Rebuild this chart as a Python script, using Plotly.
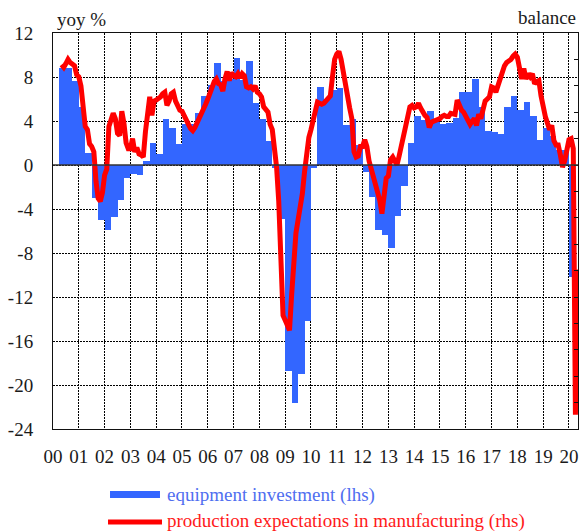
import plotly.graph_objects as go

# ---- data ----
# Equipment investment, yoy %, quarterly from 2000Q2 to 2020Q1 (lhs)
equip_start_year = 2000
equip_start_quarter = 2
equip_investment = [
    8.8, 8.8, 7.6,              # 2000 Q2-Q4
    5.3, 1.1, -3.0, -5.0,       # 2001
    -5.9, -4.7, -3.2, -1.15,    # 2002
    -0.8, -0.95, 0.33, 2.03,    # 2003
    1.03, 4.2, 3.4, 1.94,       # 2004
    3.76, 3.7, 4.7, 6.3,        # 2005
    7.3, 9.3, 7.6, 7.8,         # 2006
    9.76, 7.7, 9.5, 5.6,        # 2007
    4.2, 2.2, -0.3, -4.9,       # 2008
    -18.7, -21.6, -19.0, -14.2, # 2009
    -0.3, 7.1, 6.0, 6.8,        # 2010
    7.0, 3.6, 4.2, 1.8,         # 2011
    -0.6, -2.9, -5.9, -6.4,     # 2012
    -7.5, -4.6, -1.9, 2.0,      # 2013
    4.5, 4.1, 4.9, 3.9,         # 2014
    3.7, 3.8, 4.3, 6.6,         # 2015
    6.6, 7.8, 5.3, 3.1,         # 2016
    3.0, 2.8, 5.3, 6.3,         # 2017
    5.0, 5.7, 4.5, 2.3,         # 2018
    3.4, 2.6, 1.4, 1.4,         # 2019
    -10.2,                      # 2020 Q1
]

# Production expectations in manufacturing, balance, monthly from May 2000 (rhs)
prod_start_year = 2000
prod_start_month = 5
production_expectations = [
    19.0, 18.5, 19.2, 20.0, 19.4, 19.2, 18.8, 17.1,                         # 2000 May-Dec
    16.7, 15.0, 11.0, 7.3, 6.7, 4.0, 3.5, 2.5, -3.1, -6.3, -6.9, -5.2,      # 2001
    -1.9, -0.8, 7.3, 8.3, 9.8, 8.8, 6.0, 5.6, 10.2, 7.9, 4.2, 3.1,          # 2002
    3.1, 5.0, 2.5, 3.3, 2.1, 1.9, 1.5, 6.3, 10.4, 12.9, 9.4, 12.1,          # 2003
    12.3, 12.5, 12.9, 13.5, 13.8, 11.3, 12.1, 13.5, 13.8, 12.1, 11.0, 10.4, # 2004
    10.2, 9.2, 8.3, 7.7, 6.9, 6.5, 7.1, 7.9, 9.0, 10.0, 10.6, 11.5,         # 2005
    12.5, 13.8, 15.0, 15.8, 16.3, 15.4, 15.2, 14.0, 16.3, 17.7, 16.0, 17.5, # 2006
    16.9, 16.7, 17.3, 16.5, 17.3, 16.9, 14.8, 14.6, 14.8, 14.4, 15.0, 13.8, # 2007
    13.5, 12.9, 11.0, 10.6, 10.0, 7.7, 6.7, 3.1, -0.4, -6.9, -19.8, -28.5,  # 2008
    -29.4, -30.4, -31.3, -24.6, -16.7, -12.9, -10.4, -7.9, -5.4, -1.3, 2.7, 5.2,  # 2009
    6.7, 8.5, 10.8, 11.9, 11.7, 11.5, 11.7, 12.1, 12.7, 13.1, 16.7, 20.0,   # 2010
    21.0, 21.5, 20.0, 17.5, 14.6, 12.5, 10.8, 8.8, 2.5, 1.5, 1.7, 3.5,      # 2011
    3.5, 4.8, 3.5, 0.8, -0.6, -2.1, -3.8, -5.4, -6.7, -9.2, -5.2, -2.5,     # 2012
    -2.1, 1.0, 1.5, 0.8, 0.0, 1.7, 3.5, 6.0, 7.9, 9.4, 11.0, 11.3,          # 2013
    10.8, 11.0, 11.7, 10.8, 10.0, 9.4, 9.0, 7.1, 8.1, 8.3, 8.5, 8.5,        # 2014
    8.8, 9.2, 9.4, 9.2, 9.2, 9.8, 9.6, 9.6, 12.3, 11.0, 10.4, 10.0,         # 2015
    9.2, 8.1, 7.7, 8.3, 8.8, 7.5, 9.6, 8.8, 10.4, 12.1, 12.5, 12.9,         # 2016
    14.8, 14.6, 13.8, 15.2, 16.0, 17.3, 18.8, 19.4, 19.6, 20.0, 20.6, 21.0, # 2017
    20.4, 18.3, 16.3, 18.3, 16.3, 17.3, 16.7, 17.3, 15.4, 15.8, 16.0, 13.1, # 2018
    10.4, 9.2, 7.9, 6.7, 7.5, 4.6, 3.8, 3.8, 1.9, -0.4, 0.8, 2.7,           # 2019
    4.8, 5.0, 3.1, -47.3, -19.8,                                            # 2020 Jan-May
]

year_ticks = list(range(2000, 2021))
year_labels = [f"{y % 100:02d}" for y in year_ticks]
lhs_ticks = [12, 8, 4, 0, -4, -8, -12, -16, -20, -24]

# ---- derived positions (dates as decimal years) ----
q0 = equip_start_year + (equip_start_quarter - 1) / 4
equip_x = [q0 + 0.25 * i + 0.125 for i in range(len(equip_investment))]
m0 = prod_start_year + (prod_start_month - 1) / 12
prod_x = [m0 + i / 12 for i in range(len(production_expectations))]

FONT = "Liberation Serif"
FS = 19
BLUE = "#3366FF"
RED = "#FF0000"
TXT = "#1A1A1A"
GRID = "#000000"
DASH = "2px,1px"

fig = go.Figure()
fig.add_trace(go.Bar(
    x=equip_x, y=equip_investment, width=0.25,
    marker=dict(color=BLUE, line=dict(width=0)),
    name="equipment investment (lhs)", yaxis="y", showlegend=False,
))
fig.add_trace(go.Scatter(
    x=prod_x, y=production_expectations, mode="lines",
    line=dict(color=RED, width=5),
    name="production expectations in manufacturing (rhs)",
    yaxis="y2", showlegend=False,
))

fig.update_layout(
    width=581, height=531,
    margin=dict(l=53, r=3, t=33, b=102),
    paper_bgcolor="white", plot_bgcolor="white",
    bargap=0,
    font=dict(family=FONT, size=FS, color=TXT),
    xaxis=dict(
        range=[2000, 2020.35],
        tickmode="array", tickvals=year_ticks, ticktext=year_labels,
        showgrid=True, gridcolor=GRID, gridwidth=1, griddash=DASH,
        showline=True, linecolor="#111111", linewidth=1, mirror=True,
        ticks="", ticklabelstandoff=10, automargin=False,
        zeroline=False,
        tickfont=dict(family=FONT, size=FS, color=TXT),
    ),
    yaxis=dict(
        range=[-24, 12],
        tickmode="array", tickvals=lhs_ticks, ticktext=[str(v) for v in lhs_ticks],
        showgrid=True, gridcolor=GRID, gridwidth=1, griddash=DASH,
        showline=True, linecolor="#111111", linewidth=1, mirror=True,
        ticks="", ticklabelstandoff=15, automargin=False,
        zeroline=False,
        tickfont=dict(family=FONT, size=FS, color=TXT),
    ),
    yaxis2=dict(
        range=[-50, 25], overlaying="y", side="right",
        dtick=5, tick0=0,
        ticks="inside", ticklen=4, tickcolor="#111111",
        showticklabels=False, showgrid=False, zeroline=False, showline=False,
        automargin=False,
    ),
)

# zero line above the bars
fig.add_shape(type="line", xref="paper", yref="y", x0=0, x1=1, y0=0, y1=0,
              line=dict(color="#333333", width=1.5), layer="above")

# axis titles
fig.add_annotation(text="yoy %", xref="paper", yref="paper", x=0.003, y=1.033,
                   xanchor="left", yanchor="middle", showarrow=False,
                   font=dict(family=FONT, size=FS, color=TXT))
fig.add_annotation(text="balance", xref="paper", yref="paper", x=1.0, y=1.04,
                   xanchor="right", yanchor="middle", showarrow=False,
                   font=dict(family=FONT, size=FS, color=TXT))

# legend (drawn manually)
fig.add_shape(type="rect", xref="paper", yref="paper",
              x0=0.1086, x1=0.2038, y0=-0.1742, y1=-0.1566,
              fillcolor=BLUE, line=dict(width=0))
fig.add_annotation(text="equipment investment (lhs)", xref="paper", yref="paper",
                   x=0.2133, y=-0.1667, xanchor="left", yanchor="middle",
                   showarrow=False, font=dict(family=FONT, size=FS, color="#4F6EF0"))
fig.add_shape(type="line", xref="paper", yref="paper",
              x0=0.1048, x1=0.2076, y0=-0.2348, y1=-0.2348,
              line=dict(color=RED, width=5))
fig.add_annotation(text="production expectations in manufacturing (rhs)",
                   xref="paper", yref="paper",
                   x=0.2133, y=-0.2323, xanchor="left", yanchor="middle",
                   showarrow=False, font=dict(family=FONT, size=FS, color="#FF1A1A"))

fig.write_html(
    "out.html",
    config={"displayModeBar": False},
    post_script="document.body.style.margin='0px';document.body.style.overflow='hidden';",
)
